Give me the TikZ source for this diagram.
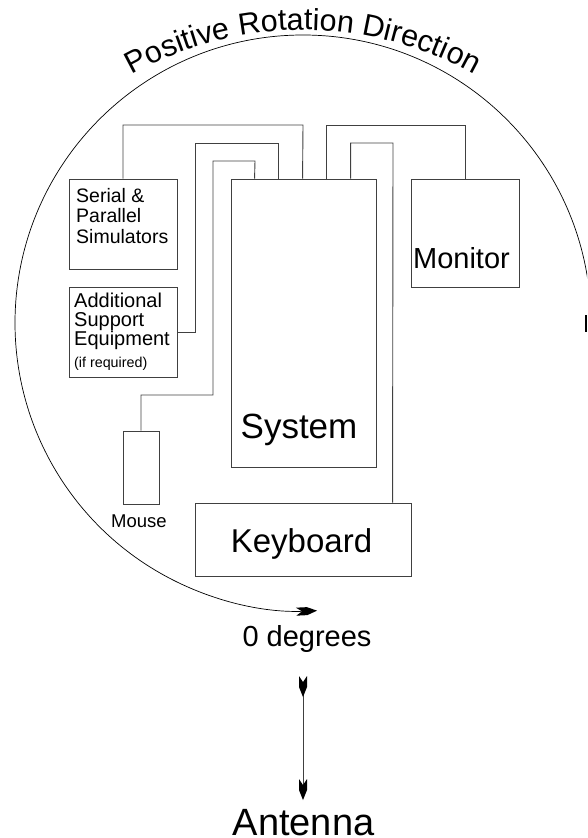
\documentclass[tikz,border=0pt]{standalone}
\usepackage{fontspec}
\setmainfont{Liberation Sans}
\usetikzlibrary{arrows.meta,decorations.text}
\definecolor{linegray}{gray}{0.25}
\pgfdeclarearrow{
  name = Feather,
  setup code = {
    \pgfarrowssettipend{0pt}
    \pgfarrowssetbackend{-21pt}
    \pgfarrowssetlineend{-12pt}
    \pgfarrowssetvisualbackend{-15pt}
    \pgfarrowshullpoint{0pt}{0pt}
    \pgfarrowsupperhullpoint{-21pt}{4pt}
  },
  drawing code = {
    \pgfpathmoveto{\pgfpoint{0pt}{0pt}}
    \pgfpathlineto{\pgfpoint{-10pt}{4pt}}
    \pgfpathlineto{\pgfpoint{-21pt}{4pt}}
    \pgfpathlineto{\pgfpoint{-15pt}{0pt}}
    \pgfpathlineto{\pgfpoint{-21pt}{-4pt}}
    \pgfpathlineto{\pgfpoint{-10pt}{-4pt}}
    \pgfpathclose
    \pgfusepathqfill
  },
}
\begin{document}
\begin{tikzpicture}[x=1pt,y=-1pt,
  box/.style={draw=linegray, line width=0.9pt, rectangle, inner sep=0pt},
  wire/.style={draw=linegray, line width=0.9pt},
  arcline/.style={draw=black, line width=0.7pt},
  lbl/.style={inner sep=0pt, text=black},
]
\useasboundingbox (0,0) rectangle (587,838);
\clip (0,0) rectangle (587,838);

% boxes
\node[box, minimum width=108pt, minimum height=90pt] (serial) at (123,224) {};
\node[box, minimum width=108pt, minimum height=90pt] (addl) at (123,332) {};
\node[box, minimum width=145pt, minimum height=288pt] (sys) at (303.5,323) {};
\node[box, minimum width=108pt, minimum height=108pt] (mon) at (465,233) {};
\node[box, minimum width=216pt, minimum height=73pt] (kbd) at (303,539.5) {};
\node[box, minimum width=36pt, minimum height=73pt] (mouse) at (141,467.5) {};

% texts
\node[lbl, anchor=north west, align=left, font=\fontsize{19.5}{20.5}\selectfont] (serialtxt) at (76,188) {Serial \&\\Parallel\\Simulators};
\node[lbl, anchor=north west, align=left, font=\fontsize{20}{19}\selectfont] (addltxt) at (74,292.5) {Additional\\Support\\Equipment};
\node[lbl, anchor=base west, font=\fontsize{14.3}{15}\selectfont] (ifreq) at (74,367) {(if required)};
\node[lbl, anchor=base, font=\fontsize{18.5}{19}\selectfont] (mousetxt) at (139,527) {Mouse};
\node[lbl, anchor=base, font=\fontsize{29}{30}\selectfont] (montxt) at (461.5,268) {Monitor};
\node[lbl, anchor=base, font=\fontsize{35}{36}\selectfont] (systxt) at (299,438) {System};
\node[lbl, anchor=base, font=\fontsize{33}{34}\selectfont] (kbdtxt) at (301.5,552) {Keyboard};
\node[lbl, anchor=base, font=\fontsize{29}{30}\selectfont] (deg) at (307,646) {0 degrees};
\node[lbl, anchor=base, font=\fontsize{38}{39}\selectfont] (ant) at (303.5,835) {Antenna};

% ports
\coordinate (p1) at ([xshift=72pt]sys.north west);
\coordinate (p2) at ([xshift=48pt]sys.north west);
\coordinate (p3) at ([xshift=24pt]sys.north west);
\coordinate (p4) at ([xshift=96pt]sys.north west);
\coordinate (p5) at ([xshift=120pt]sys.north west);
\coordinate (kport) at ([xshift=198pt]kbd.north west);
\coordinate (aTop) at ([xshift=-0.5pt,yshift=-30pt]ant.base |- deg.base);
\coordinate (aBot) at ([xshift=-0.5pt,yshift=35pt]ant.base);

% wires
\draw[wire] (serial.north) |- (303,125) -- (p1);
\draw[wire] (addl.east) -| (195,143) -| (p2);
\draw[wire] (mouse.north) |- (213,395) |- (255,161) -- (p3);
\draw[wire] (p4) |- (465,125) -- (mon.north);
\draw[wire] (p5) |- (393,143) -- (kport);

% rotation arc
\draw[arcline, -{Feather[black]}] (591,323) arc[start angle=0, end angle=272.8, radius=288pt];
\path[decorate, decoration={text along path,
  text={|\fontsize{30.5}{36}\selectfont|Positive Rotation Direction},
  text align=center}]
  (55.5,132.5) arc[start angle=135, end angle=45, radius=350pt];

% cut-off mark at right edge
\fill[black] (584.5,315) rectangle (587,332);

% antenna arrow (from 0 degrees to Antenna)
\draw[draw=linegray, line width=0.9pt,
  {Feather[reversed,black]}-{Feather[black]}] (aTop) -- (aBot);
\end{tikzpicture}
\end{document}
